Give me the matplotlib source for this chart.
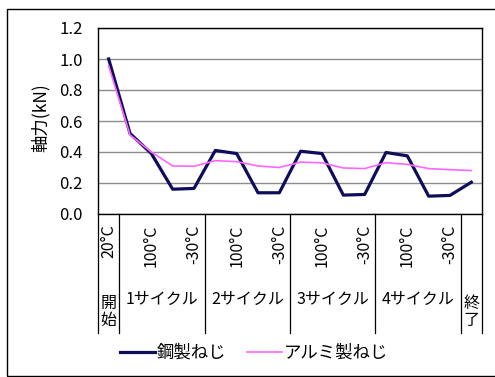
import matplotlib
matplotlib.use("Agg")
import matplotlib.pyplot as plt
from matplotlib.patches import Rectangle
import matplotlib.transforms as mtransforms

plt.rcParams['font.family'] = ['Noto Sans CJK JP', 'DejaVu Sans']

# data
temp_labels = ['20°C', '', '100°C', '', '-30°C', '', '100°C', '', '-30°C',
               '', '100°C', '', '-30°C', '', '100°C', '', '-30°C', '']
stage_labels = ['開\n始', '1サイクル', '2サイクル', '3サイクル', '4サイクル', '終\n了']
stage_sizes = [1, 4, 4, 4, 4, 1]
steel = [1.00, 0.52, 0.39, 0.16, 0.165, 0.41, 0.39, 0.137, 0.137,
         0.405, 0.39, 0.122, 0.126, 0.397, 0.375, 0.115, 0.12, 0.205]
alum = [0.955, 0.51, 0.40, 0.31, 0.308, 0.344, 0.338, 0.31, 0.30,
        0.335, 0.33, 0.297, 0.293, 0.331, 0.32, 0.293, 0.286, 0.28]

W, H = 495, 377
fig = plt.figure(figsize=(W / 100, H / 100), dpi=100)
ax = fig.add_axes([98 / W, 1 - 214 / H, 384 / W, 186 / H])

x = list(range(len(steel)))
l1, = ax.plot(x, steel, color='#0d0d5c', lw=2.3, label='鋼製ねじ', zorder=3)
l2, = ax.plot(x, alum, color='#ff66ff', lw=1.2, label='アルミ製ねじ', zorder=3)

ax.set_xlim(-0.5, len(steel) - 0.5)
ax.set_ylim(0, 1.2)
ax.set_yticks([0, 0.2, 0.4, 0.6, 0.8, 1.0, 1.2])
ax.set_yticklabels(['%.1f' % v for v in ax.get_yticks()], fontsize=12)
ax.tick_params(axis='y', length=0, pad=11)
ax.set_xticks([])
ax.grid(axis='y', color='#8c8c8c', lw=1)
ax.set_axisbelow(True)
for s in ax.spines.values():
    s.set_color('black')
    s.set_linewidth(1)

ax.set_ylabel('軸力(kN)', fontsize=12.5)
ax.yaxis.set_label_coords(-0.125, 0.52)

# multi level category axis
trans = mtransforms.blended_transform_factory(ax.transData, ax.transAxes)
for i, t in enumerate(temp_labels):
    if t:
        ax.text(i, -0.055, t, rotation=90, ha='center', va='top',
                fontsize=11.5, transform=trans)

bottom = -0.64
edges = [-0.5]
for n in stage_sizes:
    edges.append(edges[-1] + n)
for e in edges:
    ax.plot([e, e], [0, bottom], color='black', lw=0.9, transform=trans,
            clip_on=False)
for k, lab in enumerate(stage_labels):
    c = (edges[k] + edges[k + 1]) / 2
    if '\n' in lab:
        ax.text(c, -0.525, lab, ha='center', va='center', fontsize=11.5,
                linespacing=1.0, transform=trans)
    else:
        ax.text(c, -0.46, lab, ha='center', va='center', fontsize=11.5,
                transform=trans)

fig.legend(handles=[l1, l2], loc='center', bbox_to_anchor=(0.513, 0.064),
           ncol=2, frameon=False, fontsize=12.5, handlelength=2.0,
           handletextpad=0.1, columnspacing=1.2)

fig.add_artist(Rectangle((7 / W, 1 / H), 1.0, 1 - 10 / H, fill=False,
                         edgecolor='black', lw=1, transform=fig.transFigure))

fig.savefig('out.png', dpi=100)
